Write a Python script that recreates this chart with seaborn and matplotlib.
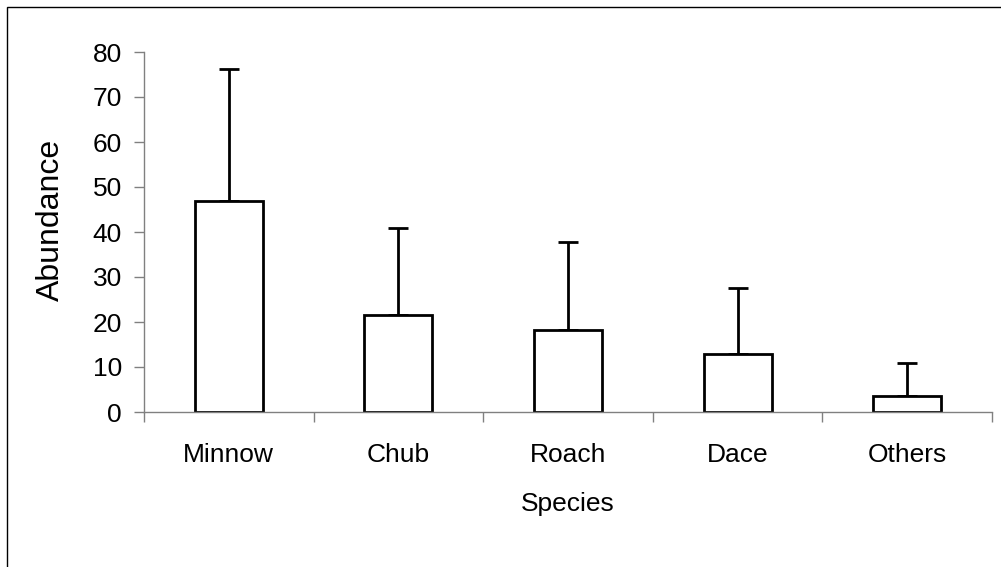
import matplotlib
matplotlib.use("Agg")
import matplotlib.pyplot as plt
import seaborn as sns
import pandas as pd
import numpy as np
from matplotlib.patches import Rectangle

species = ["Minnow", "Chub", "Roach", "Dace", "Others"]
abundance = [47.0, 21.5, 18.3, 13.0, 3.5]
err_upper = [29.3, 19.5, 19.4, 14.5, 7.3]
yticks = [0, 10, 20, 30, 40, 50, 60, 70, 80]

sns.set_theme(style="white")
plt.rcParams['font.family'] = ['Liberation Sans', 'DejaVu Sans']

df = pd.DataFrame({"Species": species, "Abundance": abundance})

fig = plt.figure(figsize=(10.01, 5.67), dpi=100)
ax = fig.add_axes([144/1001, 1-412/567, (992-144)/1001, (412-52)/567])

sns.barplot(data=df, x="Species", y="Abundance", color="white", edgecolor="black",
            linewidth=2, width=0.4, errorbar=None, ax=ax, zorder=2)
x = np.arange(len(species))
ax.errorbar(x, abundance, yerr=[np.zeros(len(species)), err_upper], fmt="none",
            ecolor="black", elinewidth=2, capsize=7, capthick=2, zorder=1)

ax.set_xlim(-0.5, len(species)-0.5)
ax.set_ylim(0, 80)
ax.set_yticks(yticks)
ax.set_yticklabels([str(t) for t in yticks], fontsize=19)
ax.set_xticks(np.arange(-0.5, len(species), 1.0))
ax.set_xticklabels([])
ax.set_xticks(x, minor=True)
ax.set_xticklabels(species, minor=True, fontsize=19)
ax.tick_params(axis="x", which="major", direction="out", length=7, width=1, color="#808080", bottom=True)
ax.tick_params(axis="x", which="minor", length=0, pad=22, colors="black")
ax.tick_params(axis="y", direction="out", length=7, width=1, color="#808080", left=True, pad=9, labelcolor="black")
for s in ["top", "right"]:
    ax.spines[s].set_visible(False)
for s in ["left", "bottom"]:
    ax.spines[s].set_color("#808080")
    ax.spines[s].set_linewidth(1)
ax.set_xlabel("Species", fontsize=19, color="black")
ax.set_ylabel("Abundance", fontsize=23, color="black")
ax.xaxis.set_label_coords(0.5, (412-492)/360)
ax.yaxis.set_label_coords((66-144)/848, (412-220)/360)
ax.set_facecolor("white")

fig.patches.append(Rectangle((7/1001, -0.1), 1.2, 1.1 - 7/567,
                             transform=fig.transFigure, fill=False, edgecolor="black", linewidth=1))

fig.savefig("out.png", dpi=100, facecolor="white")
